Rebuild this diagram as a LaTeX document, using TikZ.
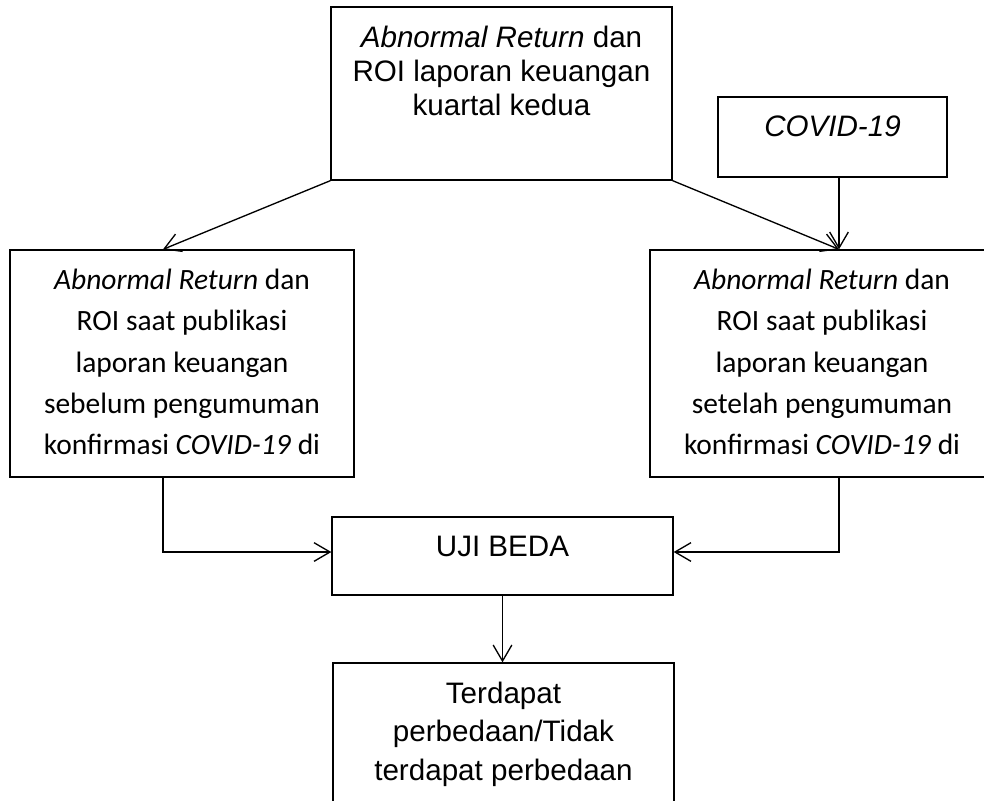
\documentclass[tikz,border=0pt]{standalone}
\usepackage{fontspec}
\setmainfont{Liberation Sans}
\newfontfamily\calibri{Carlito}
\usetikzlibrary{arrows.meta, positioning}

\begin{document}
\begin{tikzpicture}[x=0.75pt, y=-0.75pt,
    box/.style={draw, line width=1pt, inner sep=0pt},
    arialtxt/.style={inner sep=0pt, align=center, font=\fontsize{22.2pt}{25.6pt}\selectfont},
    calibritxt/.style={inner sep=0pt, align=center, font=\calibri\fontsize{22.1pt}{31pt}\selectfont},
    arr/.style={line width=1pt, -{Straight Barb[length=12pt, width=14pt, line width=1pt]}}]
  \useasboundingbox (0,0) rectangle (984,800);
  \clip (0,0) rectangle (984,800);
  % kotak
  \node[box, minimum width=255.75pt, minimum height=129.75pt] (top) at (501.5,93.5) {};
  \node[box, minimum width=171.75pt, minimum height=60pt] (covid) at (832.5,137) {};
  \node[box, minimum width=258pt, minimum height=170.25pt] (left) at (182,363.5) {};
  \node[box, minimum width=258pt, minimum height=170.25pt] (right) at (822,363.5) {};
  \node[box, minimum width=255.75pt, minimum height=58.5pt] (uji) at (502.5,556) {};
  \node[box, minimum width=255.75pt, minimum height=129.75pt] (result) at (503.5,749.5) {};
  % teks
  \node[arialtxt, below=14.5pt of top.north] (toptext) {\textit{Abnormal Return} dan\\ROI laporan keuangan\\kuartal kedua};
  \node[arialtxt, below=14.5pt of covid.north] (covidtext) {\textit{COVID-19}};
  \node[calibritxt, below=14.5pt of left.north] (lefttext) {\textit{Abnormal Return} dan\\ROI saat publikasi\\laporan keuangan\\sebelum pengumuman\\konfirmasi \textit{COVID-19} di};
  \node[calibritxt, below=14.5pt of right.north] (righttext) {\textit{Abnormal Return} dan\\ROI saat publikasi\\laporan keuangan\\setelah pengumuman\\konfirmasi \textit{COVID-19} di};
  \node[arialtxt, below=14.5pt of uji.north] (ujitext) {UJI BEDA};
  \node[arialtxt, font=\fontsize{22.2pt}{28.9pt}\selectfont, below=14.5pt of result.north] (resulttext) {Terdapat\\perbedaan/Tidak\\terdapat perbedaan};
  % panah
  \coordinate (lx) at (163,0);
  \coordinate (rx) at (839,0);
  \draw[arr] (top.south west) -- (left.north -| lx);
  \draw[arr] (top.south east) -- (right.north -| rx);
  \draw[arr] (covid.south -| rx) -- (right.north -| rx);
  \draw[arr] (left.south -| lx) |- ([yshift=3pt]uji.west);
  \draw[arr] (right.south -| rx) |- ([yshift=3pt]uji.east);
  \draw[arr] (uji.south) -- (result.north -| uji.south);
\end{tikzpicture}
\end{document}
